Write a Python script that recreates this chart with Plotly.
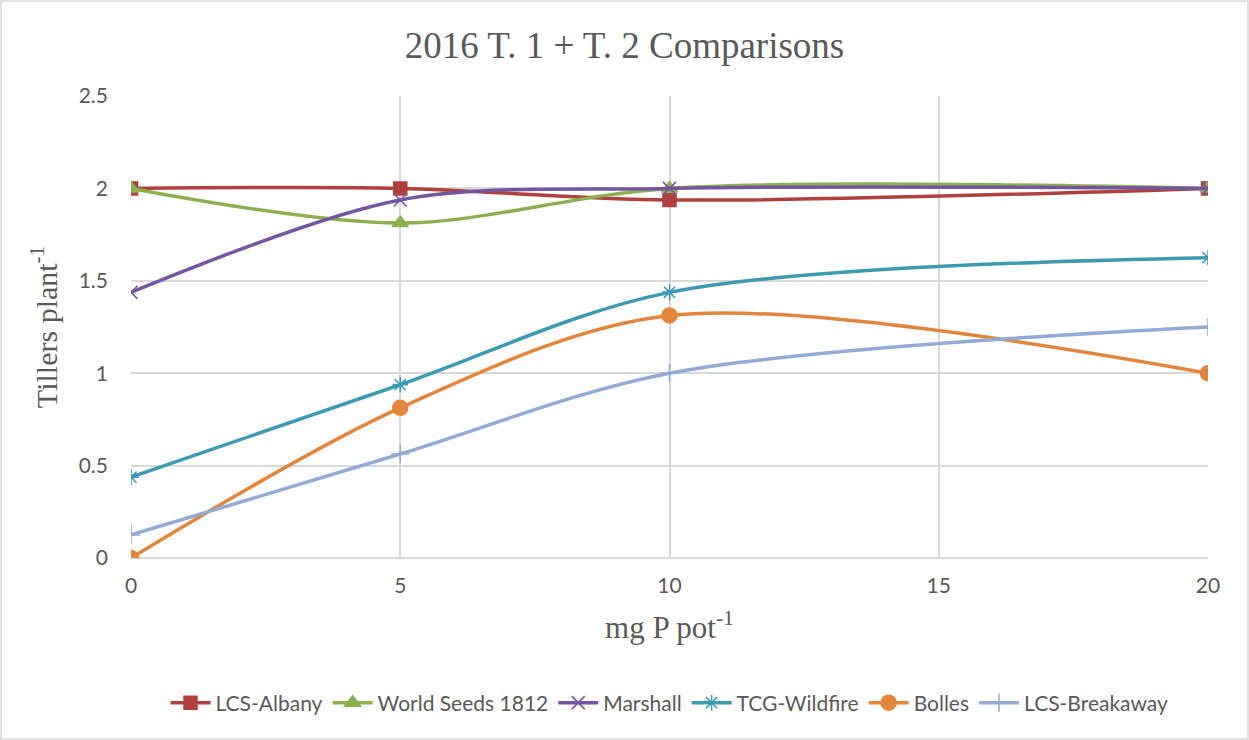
import plotly.graph_objects as go

# P rate (mg P per pot) and tiller counts per plant for each cultivar
p_rate = [0, 5, 10, 20]
lcs_albany = [2.0, 2.0, 1.9375, 2.0]
world_seeds_1812 = [2.0, 1.8125, 2.0, 2.0]
marshall = [1.4375, 1.9375, 2.0, 2.0]
tcg_wildfire = [0.4375, 0.9375, 1.4375, 1.625]
bolles = [0.0, 0.8125, 1.3125, 1.0]
lcs_breakaway = [0.125, 0.5625, 1.0, 1.25]

series = [
    ("LCS-Albany", lcs_albany, "#B0403E", "square", 13),
    ("World Seeds 1812", world_seeds_1812, "#8DB04F", "triangle-up", 14),
    ("Marshall", marshall, "#7456A0", "x-thin-open", 13),
    ("TCG-Wildfire", tcg_wildfire, "#3C9AB2", "asterisk-open", 13),
    ("Bolles", bolles, "#E3853A", "circle", 15),
    ("LCS-Breakaway", lcs_breakaway, "#93A9D6", "cross-thin-open", 13),
]

fig = go.Figure()
for name, vals, color, symbol, size in series:
    fig.add_trace(go.Scatter(
        x=p_rate, y=vals, name=name, mode="lines+markers",
        line=dict(color=color, width=3.5, shape="spline", smoothing=0.9),
        marker=dict(symbol=symbol, size=size, color=color,
                    line=dict(color=color, width=1.5)),
    ))

L, R, T, B = 131, 41, 96, 182
W, H = 1249, 740
pw, ph = W - L - R, H - T - B

fig.update_layout(
    width=W, height=H,
    margin=dict(l=L, r=R, t=T, b=B),
    paper_bgcolor="white", plot_bgcolor="white",
    title=dict(text="2016 T. 1 + T. 2 Comparisons", x=0.5, xanchor="center",
               y=1 - 45 / H, yanchor="middle",
               font=dict(family="Liberation Serif", size=37, color="#595959")),
    xaxis=dict(range=[0, 20], tickvals=[0, 5, 10, 15, 20], showgrid=True,
               gridcolor="#D9D9D9", gridwidth=1.5, zeroline=False,
               showline=False, ticks="", ticklabelstandoff=13,
               tickfont=dict(family="Lato", size=21, color="#595959"),
               title=dict(text="mg P pot<sup>-1</sup>", standoff=20,
                          font=dict(family="Liberation Serif", size=31, color="#595959"))),
    yaxis=dict(range=[0, 2.5], tickvals=[0, 0.5, 1, 1.5, 2, 2.5],
               ticktext=["0", "0.5", "1", "1.5", "2", "2.5"],
               showgrid=True, gridcolor="#D9D9D9", gridwidth=1.5,
               zeroline=True, zerolinecolor="#D9D9D9", zerolinewidth=1.5,
               showline=False, ticks="", ticklabelstandoff=22,
               tickfont=dict(family="Lato", size=21, color="#595959"),
               title=dict(text="Tillers plant<sup>-1</sup>", standoff=12,
                          font=dict(family="Liberation Serif", size=30, color="#595959"))),
    legend=dict(orientation="h", x=0.5, xanchor="center",
                y=-(703 - 558) / ph, yanchor="middle",
                font=dict(family="Lato", size=21, color="#595959"),
                itemwidth=40, tracegroupgap=0),
    showlegend=True,
)

# light frame around the whole chart
fig.add_shape(type="rect", xref="paper", yref="paper",
              x0=-(L - 1) / pw, x1=1 + (R - 1) / pw,
              y0=-(B - 1) / ph, y1=1 + (T - 1) / ph,
              line=dict(color="#D9D9D9", width=1.5), layer="below")

fig.write_html("out.html")
